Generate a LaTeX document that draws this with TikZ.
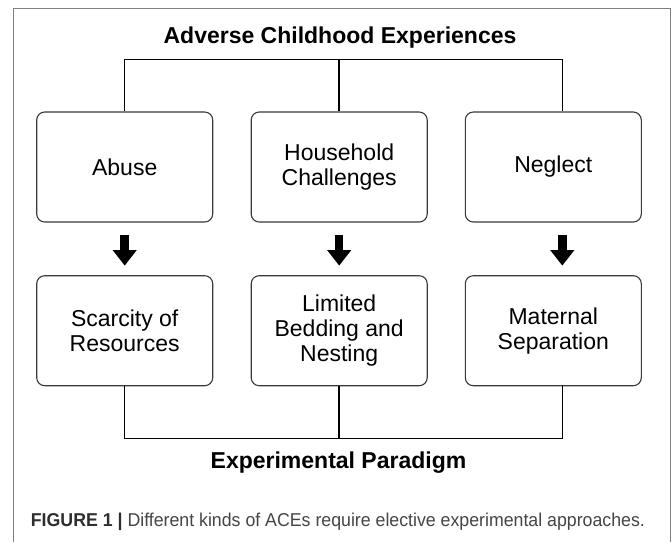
\documentclass[tikz,border=0pt]{standalone}
\usepackage{fontspec}
\setmainfont{Liberation Sans}
\usepackage{graphicx}
\usetikzlibrary{arrows.meta,calc}
\definecolor{framegray}{HTML}{808080}
\definecolor{boxgray}{HTML}{3A3A3A}
\definecolor{capdark}{HTML}{2E2E2E}
\definecolor{captext}{HTML}{454545}
\tikzset{
  box/.style={draw=boxgray, line width=1.1pt, rounded corners=8pt,
    minimum width=176pt, minimum height=110pt, inner sep=0pt,
    align=center, font=\fontsize{23}{25}\selectfont},
  conn/.style={draw=black, line width=1.5pt},
  blockarrow/.style={line width=8.5pt, -{Triangle[width=23pt,length=15.5pt]},
    shorten <=12pt, shorten >=9.5pt},
  heading/.style={font=\fontsize{23}{27}\selectfont\bfseries, inner sep=0pt},
  framestyle/.style={draw=framegray, line width=1pt}
}
\begin{document}
\begin{tikzpicture}[x=1pt,y=-1pt]
\useasboundingbox (0,0) rectangle (672,542);
\fill[white] (0,0) rectangle (672,542);
% frame
\draw[framestyle] (13.3,542) -- (13.3,8.5) -- (670,8.5) -- (670,542);
% headings
\node[heading, anchor=base] (title) at (340,43.5) {Adverse Childhood Experiences};
\node[heading, anchor=base] (para) at (338.5,468) {Experimental Paradigm};
% boxes
\node[box] (t1) at (124.7,167) {Abuse};
\node[box] (t2) at (339.2,167) {Household\\Challenges};
\node[box] (t3) at (553.3,167) {Neglect};
\node[box] (b1) at (124.7,330.7) {Scarcity of\\Resources};
\node[box] (b2) at (339.2,330.7) {Limited\\Bedding and\\Nesting};
\node[box] (b3) at (553.3,330.7) {Maternal\\Separation};
% helper coordinates
\coordinate (ytop) at (0,59.3);
\coordinate (ybot) at (0,438.3);
\coordinate (xr) at (562.3,0);
% top bracket
\draw[conn] (t1.north) -- (t1.north |- ytop) -- (xr |- ytop) -- (xr |- t3.north);
\draw[conn] (t2.north) -- (t2.north |- ytop);
% bottom bracket
\draw[conn] (b1.south) -- (b1.south |- ybot) -- (xr |- ybot) -- (xr |- b3.south);
\draw[conn] (b2.south) -- (b2.south |- ybot);
% block arrows
\draw[blockarrow] (t1.south) -- (b1.north);
\draw[blockarrow] (t2.south) -- (b2.north);
\draw[blockarrow] (t3.south -| xr) -- (b3.north -| xr);
% caption
\node[anchor=base west, inner sep=0pt] (cap) at (30.7,526.7)
  {\resizebox{614pt}{\height}{\fontsize{18.6}{22}\selectfont\color{capdark}\textbf{FIGURE 1 |} \color{captext}Different kinds of ACEs require elective experimental approaches.}};
\end{tikzpicture}
\end{document}
